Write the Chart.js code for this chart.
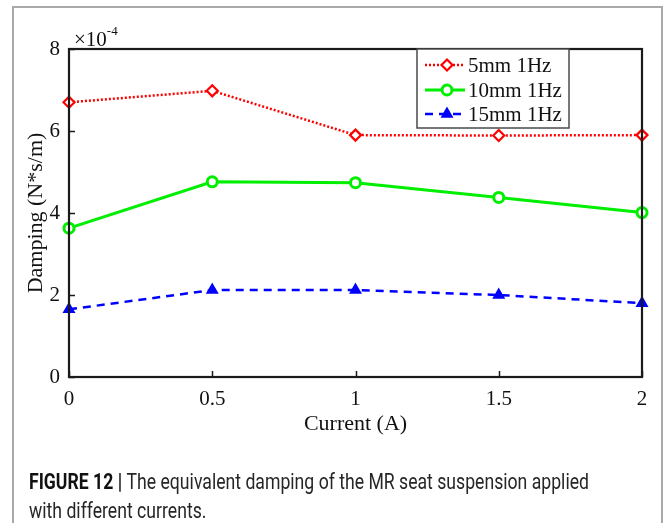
<!DOCTYPE html>
<html>
<head>
<meta charset="utf-8">
<script src="https://cdn.jsdelivr.net/npm/chart.js@4.4.0/dist/chart.umd.min.js"></script>
<style>
  html, body { margin: 0; padding: 0; background: #fff; }
  #wrap { position: relative; width: 665px; height: 523px; }
</style>
</head>
<body>
<div id="wrap"><canvas id="damping-chart" width="665" height="523"></canvas></div>
<script>
// applied current (A)
var currents = [0, 0.5, 1, 1.5, 2];
// equivalent damping, in units of 1e-4 N*s/m
var damp5mm = [6.70, 6.98, 5.90, 5.89, 5.90];
var damp10mm = [3.63, 4.76, 4.74, 4.38, 4.01];
var damp15mm = [1.65, 2.12, 2.12, 2.00, 1.80];
var seriesNames = ['5mm 1Hz', '10mm 1Hz', '15mm 1Hz'];
var xTicks = [0, 0.5, 1, 1.5, 2];
var yTicks = [0, 2, 4, 6, 8];

var serif = '"Liberation Serif", "Times New Roman", serif';

function points(ys) {
  return currents.map(function (c, i) { return { x: c, y: ys[i] }; });
}

var chrome = {
  id: 'chrome',
  beforeDraw: function (chart) {
    var ctx = chart.ctx;
    ctx.save();
    ctx.fillStyle = '#fff';
    ctx.fillRect(0, 0, chart.width, chart.height);
    ctx.strokeStyle = '#a9a9a9';
    ctx.lineWidth = 2;
    ctx.strokeRect(13, 7, 649, 580);
    ctx.restore();
  },
  afterDatasetsDraw: function (chart) {
    var ctx = chart.ctx, a = chart.chartArea;
    var xs = chart.scales.x, ys = chart.scales.y;
    ctx.save();
    ctx.strokeStyle = '#1a1a1a';
    ctx.lineWidth = 1.5;
    // inward tick marks
    ctx.beginPath();
    xTicks.forEach(function (v) {
      var px = Math.round(xs.getPixelForValue(v)) + 0.5;
      ctx.moveTo(px, a.bottom);
      ctx.lineTo(px, a.bottom - 6);
    });
    yTicks.forEach(function (v) {
      var py = Math.round(ys.getPixelForValue(v)) + 0.5;
      ctx.moveTo(a.left, py);
      ctx.lineTo(a.left + 6, py);
    });
    ctx.stroke();
    // axes box
    ctx.lineWidth = 2.2;
    ctx.strokeRect(a.left, a.top, a.right - a.left, a.bottom - a.top);
    // exponent label
    ctx.fillStyle = '#111';
    ctx.textBaseline = 'alphabetic';
    ctx.font = '21px ' + serif;
    ctx.fillText('\u00d710', a.left + 5, a.top - 3);
    var w = ctx.measureText('\u00d710').width;
    ctx.font = '13px ' + serif;
    ctx.fillText('-4', a.left + 5 + w, a.top - 14);
    ctx.restore();
  },
  afterDraw: function (chart) {
    var ctx = chart.ctx;
    ctx.save();
    // legend
    var lx = 417, ly = 49, lw = 152, lh = 79;
    ctx.fillStyle = '#fff';
    ctx.fillRect(lx, ly, lw, lh);
    ctx.strokeStyle = '#4a4a4a';
    ctx.lineWidth = 1.5;
    ctx.strokeRect(lx, ly, lw, lh);
    var rows = [65, 90, 114];
    chart.data.datasets.forEach(function (ds, i) {
      var y = rows[i];
      ctx.strokeStyle = ds.borderColor;
      ctx.lineWidth = ds.borderWidth;
      ctx.setLineDash(ds.borderDash || []);
      ctx.beginPath();
      ctx.moveTo(lx + 8, y);
      ctx.lineTo(lx + 48, y);
      ctx.stroke();
      ctx.setLineDash([]);
      ctx.fillStyle = ds.pointBackgroundColor;
      ctx.strokeStyle = ds.pointBorderColor;
      ctx.lineWidth = ds.pointBorderWidth;
      Chart.helpers.drawPoint(ctx, {
        pointStyle: ds.pointStyle, radius: ds.pointRadius,
        borderWidth: ds.pointBorderWidth, rotation: 0
      }, lx + 30, y);
      ctx.fillStyle = '#111';
      ctx.font = '21px ' + serif;
      ctx.textBaseline = 'middle';
      ctx.fillText(ds.label, lx + 51, y + 1);
    });
    // caption
    var bold = 'FIGURE 12 |', rest = ' The equivalent damping of the MR seat suspension applied';
    ctx.textBaseline = 'alphabetic';
    ctx.font = 'bold 21.5px Roboto';
    var wb = ctx.measureText(bold).width;
    ctx.font = '21.5px Roboto';
    var wr = ctx.measureText(rest).width;
    var sx = 560 / (wb + wr);
    ctx.translate(29, 0);
    ctx.scale(sx, 1);
    ctx.fillStyle = '#111';
    ctx.font = 'bold 21.5px Roboto';
    ctx.fillText(bold, 0, 489);
    ctx.font = '21.5px Roboto';
    ctx.fillStyle = '#262626';
    ctx.fillText(rest, wb, 489);
    ctx.fillText('with different currents.', 0, 518);
    ctx.restore();
  }
};

new Chart(document.getElementById('damping-chart'), {
  type: 'line',
  data: {
    datasets: [{
      label: seriesNames[0],
      data: points(damp5mm),
      borderColor: '#ff0000',
      borderWidth: 2.5,
      borderDash: [2, 2],
      pointStyle: 'rectRot',
      pointRadius: 5.5,
      pointBackgroundColor: '#fff',
      pointBorderColor: '#ff0000',
      pointBorderWidth: 2.2,
      clip: false
    }, {
      label: seriesNames[1],
      data: points(damp10mm),
      borderColor: '#00ee00',
      borderWidth: 3,
      pointStyle: 'circle',
      pointRadius: 5,
      pointBackgroundColor: '#fff',
      pointBorderColor: '#00ee00',
      pointBorderWidth: 3,
      clip: false
    }, {
      label: seriesNames[2],
      data: points(damp15mm),
      borderColor: '#0000ff',
      borderWidth: 2.5,
      borderDash: [8, 6],
      pointStyle: 'triangle',
      pointRadius: 6,
      pointBackgroundColor: '#0000ff',
      pointBorderColor: '#0000ff',
      pointBorderWidth: 1.5,
      clip: false
    }]
  },
  options: {
    responsive: false,
    animation: false,
    devicePixelRatio: 1,
    layout: { padding: { left: 0, top: 49, right: 23, bottom: 86 } },
    plugins: { legend: { display: false }, tooltip: { enabled: false } },
    elements: { line: { tension: 0 } },
    scales: {
      x: {
        type: 'linear',
        min: 0, max: 2,
        afterBuildTicks: function (s) { s.ticks = xTicks.map(function (v) { return { value: v }; }); },
        afterFit: function (s) { s.height = 60; },
        grid: { display: false, drawTicks: false },
        border: { display: false },
        ticks: {
          color: '#111', padding: 10, maxRotation: 0,
          font: { family: serif, size: 21 },
          callback: function (v) { return String(v); }
        },
        title: {
          display: true, text: 'Current (A)', color: '#111',
          font: { family: serif, size: 22 }, padding: { top: 0, bottom: 0 }
        }
      },
      y: {
        min: 0, max: 8,
        afterBuildTicks: function (s) { s.ticks = yTicks.map(function (v) { return { value: v }; }); },
        afterFit: function (s) { s.width = 69; },
        grid: { display: false, drawTicks: false },
        border: { display: false },
        ticks: {
          color: '#111', padding: 9,
          font: { family: serif, size: 21 },
          callback: function (v) { return String(v); }
        },
        title: {
          display: true, text: 'Damping (N*s/m)', color: '#111',
          font: { family: serif, size: 22 }, padding: { top: 23, bottom: 0 }
        }
      }
    }
  },
  plugins: [chrome]
});
</script>
</body>
</html>
